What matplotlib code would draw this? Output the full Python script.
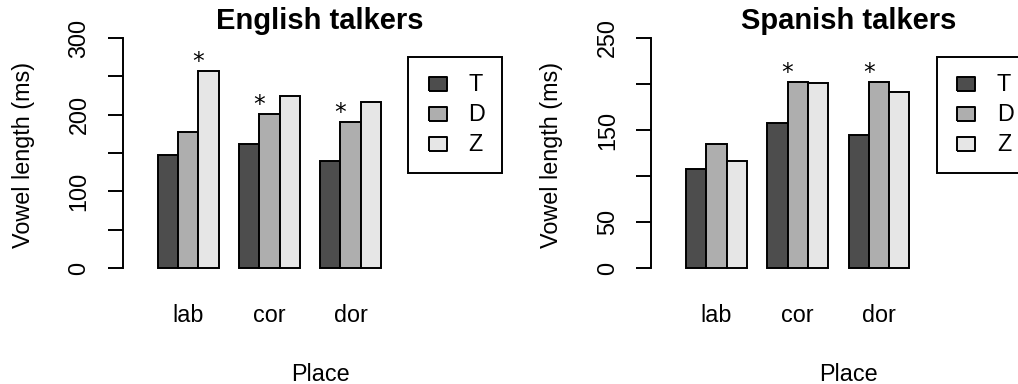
import matplotlib
matplotlib.use("Agg")
import matplotlib.pyplot as plt
from matplotlib.lines import Line2D
import numpy as np

plt.rcParams['font.family'] = ['Liberation Sans', 'DejaVu Sans']

places = ['lab', 'cor', 'dor']
consonants = ['T', 'D', 'Z']
colors = ['#4D4D4D', '#AEAEAE', '#E6E6E6']

# mean vowel length (ms), rows = place, columns = T / D / Z
english = [[148, 178, 257],
           [162, 201, 224],
           [140, 190, 217]]
spanish = [[108, 135, 116],
           [158, 202, 201],
           [145, 202, 191]]

# significance stars: index of the bar whose right edge gets the star (None = no star)
english_stars = [1, 0, 0]
spanish_stars = [None, 0, 0]

english_ticks = [0, 50, 100, 150, 200, 250, 300]
english_ticklabels = ['0', '', '100', '', '200', '', '300']
spanish_ticks = [0, 50, 100, 150, 200, 250]
spanish_ticklabels = ['0', '50', '', '150', '', '250']

W, H = 1018, 384
fig = plt.figure(figsize=(W / 100, H / 100), dpi=100)

LW = 1.4
FS = 16.8
AX_W, AX_H = 394.6, 248.4

# rectangular legend keys like R's fill boxes
key_shape = [(-1, -0.78), (1, -0.78), (1, 0.78), (-1, 0.78), (-1, -0.78)]


def panel(left_px, title, data, stars, ticks, ticklabels):
    ax = fig.add_axes([left_px / W, (H - 277.2) / H, AX_W / W, AX_H / H])
    data = np.array(data, dtype=float)
    ymax = ticks[-1]
    for k in range(3):
        x = 1.5 + 4 * np.arange(3) + k
        ax.bar(x, data[:, k], width=1.0, color=colors[k], edgecolor='black',
               linewidth=LW)
    for g, s in enumerate(stars):
        if s is None:
            continue
        xs = 1 + 4 * g + s + 1
        top = max(data[g, s], data[g, s + 1])
        ax.annotate('*', xy=(xs, top), xytext=(0, 2.2), textcoords='offset points',
                    ha='center', va='baseline', fontsize=FS, family='DejaVu Sans')
    ax.set_xlim(-0.72, 18.72)
    ax.set_ylim(-0.04 * ymax, 1.04 * ymax)
    for sp in ['top', 'right', 'bottom']:
        ax.spines[sp].set_visible(False)
    ax.spines['left'].set_bounds(0, ymax)
    ax.spines['left'].set_linewidth(LW)
    ax.set_yticks(ticks)
    ax.set_yticklabels(ticklabels, rotation=90, va='center', fontsize=FS)
    ax.tick_params(axis='y', length=10.8, width=LW, pad=12.5)
    ax.set_xticks(1.5 + 4 * np.arange(3) + 1)
    ax.set_xticklabels(places, fontsize=FS)
    ax.tick_params(axis='x', length=0, pad=19)
    ax.text(0.5, 1 - 0.5 / AX_H, title, transform=ax.transAxes, ha='center',
            va='baseline', fontsize=21, fontweight='bold')
    ax.text(-99.5 / AX_W, 0.492, 'Vowel length (ms)', transform=ax.transAxes,
            rotation=90, ha='center', va='center', fontsize=FS)
    ax.text(0.5, -103.5 / AX_H, 'Place', transform=ax.transAxes,
            ha='center', va='baseline', fontsize=FS)
    handles = [Line2D([], [], ls='none', marker=key_shape, markersize=13.2,
                      markerfacecolor=c, markeredgecolor='black', markeredgewidth=LW)
               for c in colors]
    leg = ax.legend(handles, consonants, loc='upper left',
                    bbox_to_anchor=(285.5 / AX_W, 220.5 / AX_H), borderaxespad=0,
                    fontsize=FS, handlelength=1.13, handleheight=0.4,
                    handletextpad=0.75, borderpad=0.7, labelspacing=0.305,
                    fancybox=False, framealpha=1, edgecolor='black')
    leg.get_frame().set_linewidth(LW)
    return ax


panel(122.8, 'English talkers', english, english_stars, english_ticks, english_ticklabels)
panel(651.2, 'Spanish talkers', spanish, spanish_stars, spanish_ticks, spanish_ticklabels)

fig.savefig('out.png', dpi=100)
